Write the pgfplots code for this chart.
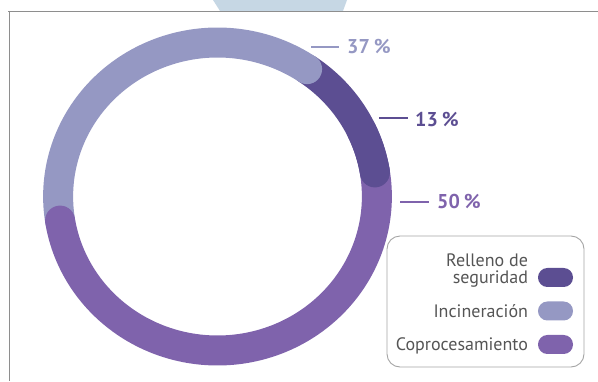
\documentclass[border=0pt]{standalone}
\usepackage{pgfplots}
\pgfplotsset{compat=1.18}
\usepgfplotslibrary{polar}
\usepackage{fontspec}
\setmainfont{PT Sans}
\definecolor{cLight}{HTML}{9598C3}
\definecolor{cDark}{HTML}{5C4E92}
\definecolor{cPurple}{HTML}{7F63AC}
\definecolor{cText}{HTML}{555555}
\definecolor{cFrame}{HTML}{8E8E8E}
\definecolor{cMark}{HTML}{C6D7E4}
\begin{document}
\begin{tikzpicture}[x=1bp,y=1bp]
\useasboundingbox (0,0) rectangle (598,381);
% decorative frame and watermark
\fill[cMark] (213,381) -- (347,381) -- (343,370) -- (220,370) -- cycle;
\draw[cFrame, line width=1bp] (8,369) -- (598,369);
\draw[cFrame, line width=1bp] (9,369) -- (9,0);
% shares: Relleno de seguridad 13 %, Incineracion 37 %, Coprocesamiento 50 %
% ring: 100 % = 360 deg, clockwise from 189 deg
\begin{axis}[at={(0,0)}, anchor=south west,
  x=1.035bp, y=1bp,
  xmin=-210.14, xmax=367.63, ymin=-184.5, ymax=196.5,
  hide axis, clip=false,
  legend plot pos=right,
  legend style={at={(0.9582,0.3341)}, anchor=north east, draw=none, fill=none,
    inner sep=0pt, outer sep=0pt,
    font=\fontsize{18bp}{16bp}\selectfont\color{cText},
    nodes={inner sep=0pt},
    cells={anchor=base east},
    column sep=10bp, row sep=14.5bp},
]
% Relleno de seguridad: 13 % -> 46.8 deg
\addplot[draw=cDark, line width=30bp, line cap=round, data cs=polar,
  domain=9:55.8, samples=40,
  legend image code/.code={\path[fill=cDark, draw=none, line width=0pt, rounded corners=9.4bp] (0bp,-3bp) rectangle (35bp,16bp);}] {154};
\addlegendentry{\begin{tabular}[b]{@{}r@{}}Relleno de\\seguridad\end{tabular}}
% Incineracion: 37 % -> 133.2 deg
\addplot[draw=cLight, line width=30bp, line cap=round, data cs=polar,
  domain=55.8:189, samples=90,
  legend image code/.code={\path[fill=cLight, draw=none, line width=0pt, rounded corners=9.4bp] (0bp,-3bp) rectangle (35bp,16bp);}] {154};
\addlegendentry{Incineración}
% Coprocesamiento: 50 % -> 180 deg
\addplot[draw=cPurple, line width=30bp, line cap=round, data cs=polar,
  domain=-171:9, samples=120,
  legend image code/.code={\path[fill=cPurple, draw=none, line width=0pt, rounded corners=9.4bp] (0bp,-3bp) rectangle (35bp,16bp);}] {154};
\addlegendentry{Coprocesamiento}
% end of the 13 % arc, drawn again over the start of the 50 % arc
\addplot[forget plot, draw=cDark, line width=30bp, line cap=round, data cs=polar,
  domain=9:25, samples=15] {154};
\end{axis}
% legend frame
\draw[cFrame!80, line width=0.9bp, rounded corners=13bp] (387,14) rectangle (584,145);
% percentage labels
\draw[cLight, line width=1.8bp] (311,334) -- (339,334);
\node[anchor=base west, inner sep=0pt, text=cLight, font=\fontsize{20bp}{20bp}\selectfont\bfseries] at (347,327.7) {37\hspace{4bp}\%};
\draw[cDark, line width=1.8bp] (379,263) -- (408,263);
\node[anchor=base west, inner sep=0pt, text=cDark, font=\fontsize{20bp}{20bp}\selectfont\bfseries] at (415,255) {13\hspace{4bp}\%};
\draw[cPurple, line width=1.8bp] (400,179) -- (429,179);
\node[anchor=base west, inner sep=0pt, text=cPurple, font=\fontsize{20bp}{20bp}\selectfont\bfseries] at (437,172.7) {50\hspace{4bp}\%};
\end{tikzpicture}
\end{document}
